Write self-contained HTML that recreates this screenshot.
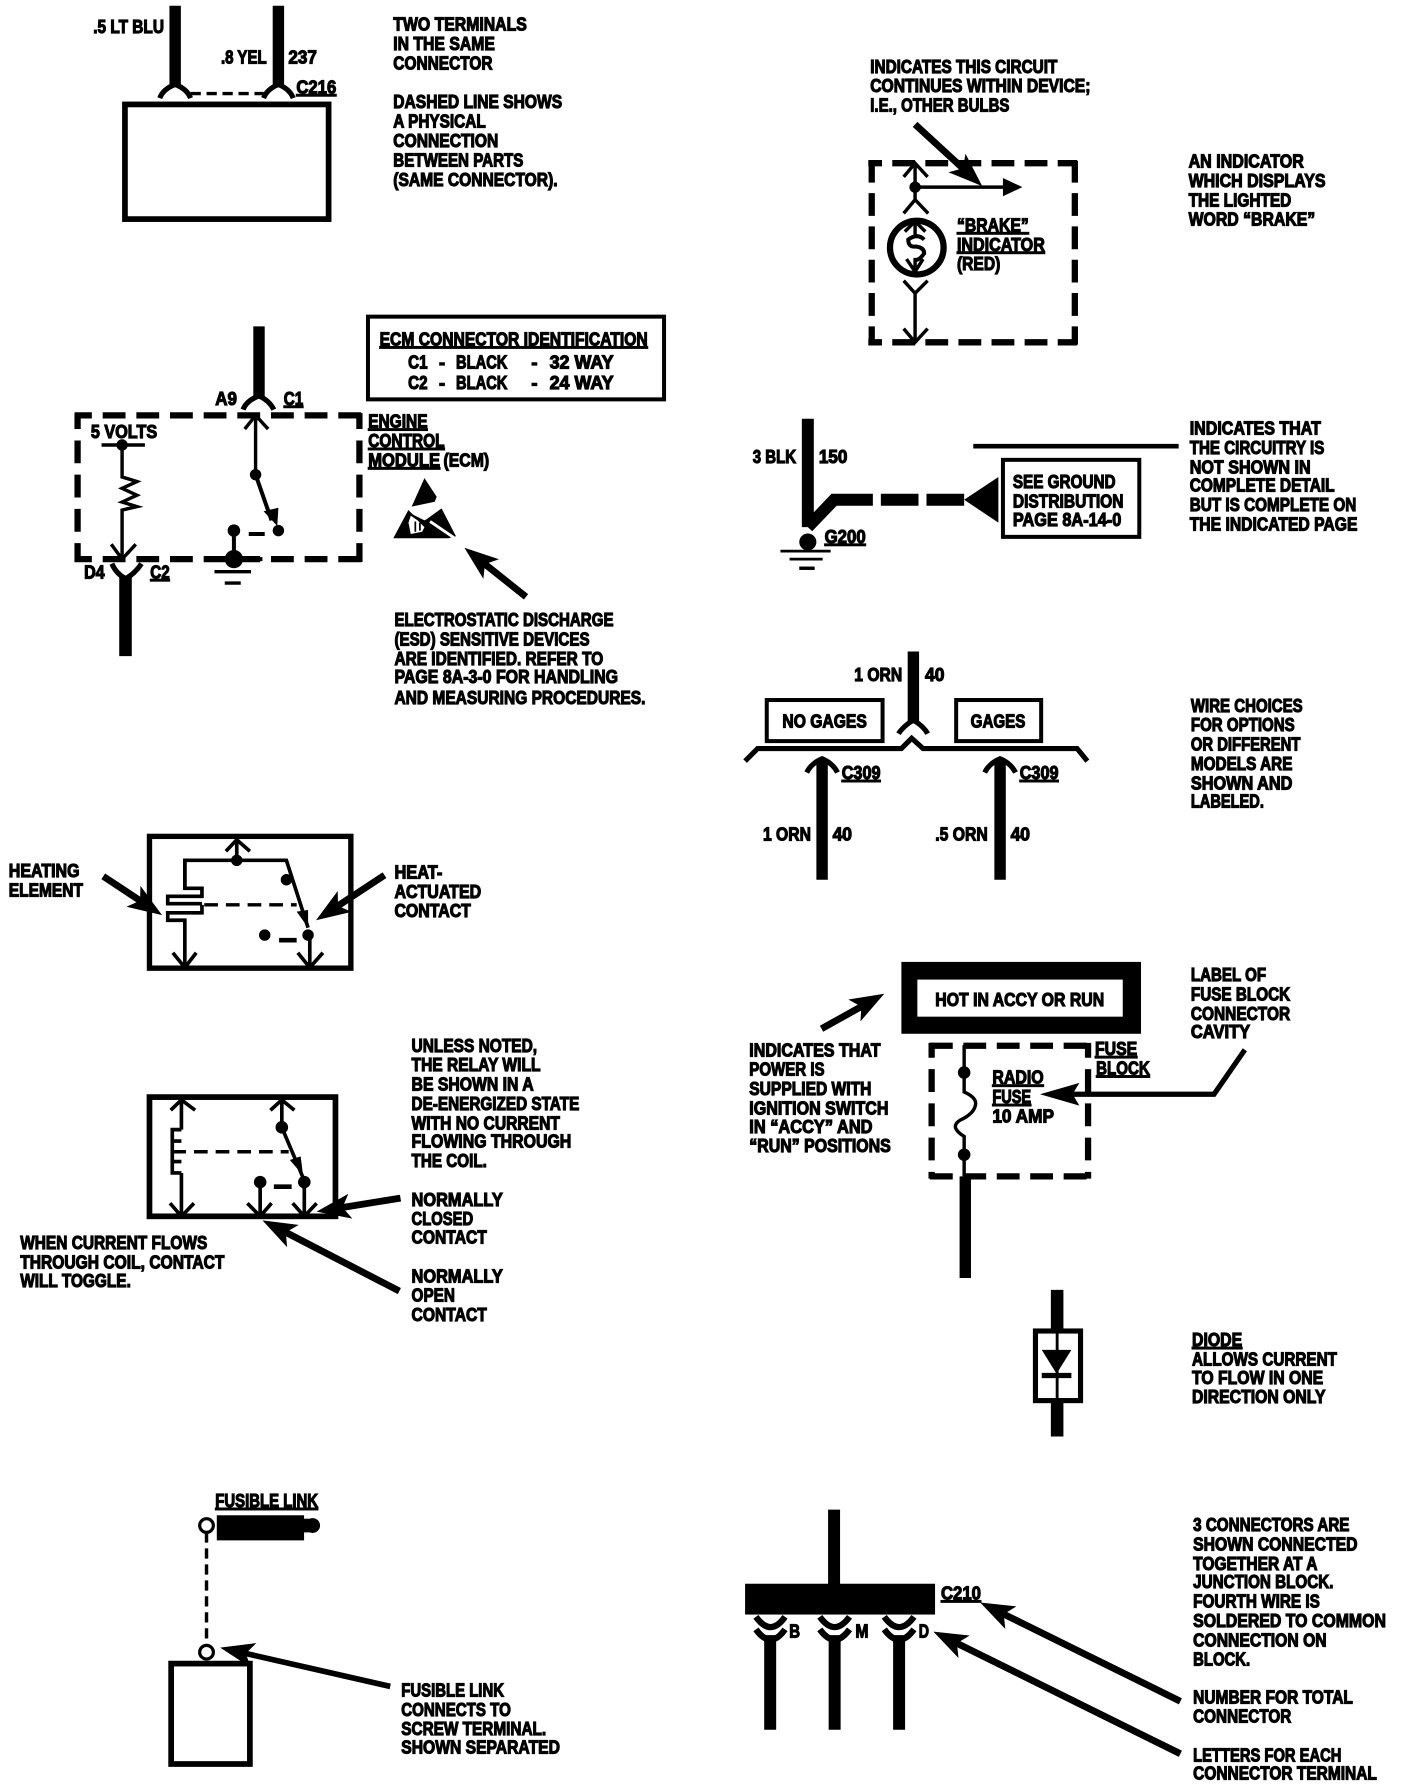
<!DOCTYPE html>
<html><head><meta charset="utf-8"><title>Wiring diagram symbols</title>
<style>
html,body{margin:0;padding:0;background:#fff}
svg{display:block;position:absolute;left:0;top:0}
text{font:bold 16px "Liberation Sans",sans-serif;fill:#000;stroke:#000;stroke-width:1;transform:translate(-.3px,-.2px)}
.u{text-decoration:underline}
.w{fill:none;stroke:#000;stroke-linecap:butt;stroke-linejoin:miter}
.n{fill:#000;stroke:none}
</style></head><body>
<svg width="1408" height="1788" viewBox="0 0 1234 1567" xmlns="http://www.w3.org/2000/svg">
<defs>
<marker id="a" markerUnits="userSpaceOnUse" viewBox="0 0 30 22" markerWidth="30" markerHeight="22" refX="18" refY="11" orient="auto"><path d="M0 0L30 11L0 22L7 11z"/></marker>
</defs>
<rect width="1234" height="1567" fill="#fff"/>

<!-- Block 1 -->
<g class="w">
<path stroke-width="10" d="M153.500 5V76M244 5V76"/>
<path stroke-width="4.500" d="M140 86Q143 78 153.500 74Q164 78 167 86M231 86Q234 78 244 74Q254 78 257 86"/>
<path stroke-width="3" stroke-dasharray="9 5" d="M167 82H231"/>
<rect x="109.500" y="91.500" width="178.500" height="100.500" stroke-width="5"/>
</g>
<text x="82" y="29" textLength="62" lengthAdjust="spacingAndGlyphs">.5 LT BLU</text>
<text x="194" y="56" textLength="40" lengthAdjust="spacingAndGlyphs">.8 YEL</text>
<text x="253" y="56" textLength="25" lengthAdjust="spacingAndGlyphs">237</text>
<text class="u" x="260" y="82" textLength="35" lengthAdjust="spacingAndGlyphs">C216</text>
<text x="345" y="27" textLength="117" lengthAdjust="spacingAndGlyphs">TWO TERMINALS</text>
<text x="345" y="44" textLength="89" lengthAdjust="spacingAndGlyphs">IN THE SAME</text>
<text x="345" y="61" textLength="87" lengthAdjust="spacingAndGlyphs">CONNECTOR</text>
<text x="345" y="95" textLength="148" lengthAdjust="spacingAndGlyphs">DASHED LINE SHOWS</text>
<text x="345" y="112" textLength="81" lengthAdjust="spacingAndGlyphs">A PHYSICAL</text>
<text x="345" y="129" textLength="92" lengthAdjust="spacingAndGlyphs">CONNECTION</text>
<text x="345" y="146" textLength="114" lengthAdjust="spacingAndGlyphs">BETWEEN PARTS</text>
<text x="345" y="163" textLength="144" lengthAdjust="spacingAndGlyphs">(SAME CONNECTOR).</text>

<!-- ECM -->
<rect class="w" x="322.500" y="277.500" width="259.500" height="72.500" stroke-width="3.500"/>
<text class="u" x="333" y="303" textLength="235" lengthAdjust="spacingAndGlyphs">ECM CONNECTOR IDENTIFICATION</text>
<text x="358" y="323" textLength="17" lengthAdjust="spacingAndGlyphs">C1</text>
<text x="385" y="323">-</text>
<text x="400" y="323" textLength="45" lengthAdjust="spacingAndGlyphs">BLACK</text>
<text x="466" y="323">-</text>
<text x="482" y="323" textLength="56" lengthAdjust="spacingAndGlyphs">32 WAY</text>
<text x="358" y="341" textLength="17" lengthAdjust="spacingAndGlyphs">C2</text>
<text x="385" y="341">-</text>
<text x="400" y="341" textLength="45" lengthAdjust="spacingAndGlyphs">BLACK</text>
<text x="466" y="341">-</text>
<text x="482" y="341" textLength="56" lengthAdjust="spacingAndGlyphs">24 WAY</text>
<g class="w">
<path stroke-width="10" d="M227 286V349"/>
<path stroke-width="4.500" d="M213 359Q216 351 227 347Q236 351 240 359"/>
<path stroke-width="5.500" stroke-dasharray="20 9.500" stroke-dashoffset="5" d="M65.500 364H317.500M65.500 490H317.500"/>
<path stroke-width="5.500" stroke-dasharray="20 10" stroke-dashoffset="6" d="M68 362V492.500M315 362V492.500"/>
<path stroke-width="3" d="M214.500 376L224 364L235 376M224 364V416"/>
<path stroke-width="3.500" d="M224 416L238 456"/>
<path stroke-width="3" d="M89 390H127M107 390V418L120 422L107 428L120 434L107 440L120 444L107 447V490M97.500 477L107 490L119 477"/>
<path stroke-width="3.500" d="M205 465V490M218 468H232"/>
<path stroke-width="3.500" d="M182 490H230"/>
<path stroke-width="3" d="M188 501H220M197 511H211"/>
<path stroke-width="4.500" d="M98 494Q102 503 110 507Q118 503 124 494"/>
<path stroke-width="11" d="M110 506V575"/>
</g>
<path class="n" d="M231 448L244 445L243 461z"/>
<circle class="n" cx="224" cy="416" r="5"/><circle class="n" cx="244" cy="465" r="5"/><circle class="n" cx="205" cy="465" r="5.500"/><circle class="n" cx="205" cy="490" r="8"/><circle class="n" cx="107" cy="390" r="5"/>
<text x="189" y="355" textLength="19" lengthAdjust="spacingAndGlyphs">A9</text>
<text class="u" x="249" y="355" textLength="17" lengthAdjust="spacingAndGlyphs">C1</text>
<text x="80" y="384" textLength="58" lengthAdjust="spacingAndGlyphs">5 VOLTS</text>
<text x="74" y="507" textLength="18" lengthAdjust="spacingAndGlyphs">D4</text>
<text class="u" x="132" y="507" textLength="17" lengthAdjust="spacingAndGlyphs">C2</text>
<text class="u" x="323" y="375" textLength="52" lengthAdjust="spacingAndGlyphs">ENGINE</text>
<text class="u" x="323" y="392" textLength="67" lengthAdjust="spacingAndGlyphs">CONTROL</text>
<text class="u" x="323" y="409" textLength="63" lengthAdjust="spacingAndGlyphs">MODULE</text>
<text x="389" y="409" textLength="40" lengthAdjust="spacingAndGlyphs">(ECM)</text>
<path class="n" d="M372 419L382.700 435.300L381 439.700L360.800 444z"/>
<path class="n" d="M344.700 471.700L357.900 447L362 451L372 456L374 455L387 445.500L399.600 470L393 471.700z"/>
<path d="M358 458L360 452L366 456L372 462L370 466L360 468z" fill="#fff"/>
<path d="M364 457V466M368 458V465" stroke="#000" stroke-width="1.500" fill="none"/>
<path d="M376.900 457L399 472" stroke="#fff" stroke-width="2.500" fill="none"/>
<path class="w" stroke-width="6" marker-end="url(#a)" d="M461 523L416.400 487.500"/>
<text x="346" y="549" textLength="192" lengthAdjust="spacingAndGlyphs">ELECTROSTATIC DISCHARGE</text>
<text x="346" y="566" textLength="171" lengthAdjust="spacingAndGlyphs">(ESD) SENSITIVE DEVICES</text>
<text x="346" y="583" textLength="183" lengthAdjust="spacingAndGlyphs">ARE IDENTIFIED.  REFER TO</text>
<text x="346" y="599" textLength="196" lengthAdjust="spacingAndGlyphs">PAGE 8A-3-0 FOR HANDLING</text>
<text x="346" y="617" textLength="220" lengthAdjust="spacingAndGlyphs">AND MEASURING PROCEDURES.</text>

<!-- Heater -->
<g class="w">
<rect x="131" y="733" width="176.500" height="115.500" stroke-width="4.700"/>
<path stroke-width="3.200" d="M198 746L207.500 736L219 746M207.500 736V754M162 778.500V754H251L270 813"/>
<path stroke-width="3.200" d="M162 754V778.500H177V785.500H147V792H177M177 793V800H147V806.500H162V848M151.500 835L162 848L172 835"/>
<path stroke-width="3" stroke-dasharray="12 7" d="M179 793H260"/>
<path stroke-width="3.200" d="M271.500 819V848M261 835L271.500 848L283 835"/>
<path stroke-width="4" d="M244.600 824H260"/>
</g>
<circle class="n" cx="207.500" cy="754" r="5"/><circle class="n" cx="251" cy="771" r="5"/><circle class="n" cx="270" cy="819.500" r="5"/><circle class="n" cx="232" cy="819.500" r="5"/>
<path class="n" d="M260 799L270 797.500L270 813z"/>
<path class="w" stroke-width="6" marker-end="url(#a)" d="M90.500 768L132 795.400"/>
<path class="w" stroke-width="6" marker-end="url(#a)" d="M337 767L287 799.900"/>
<text x="8" y="769" textLength="62" lengthAdjust="spacingAndGlyphs">HEATING</text>
<text x="8" y="786" textLength="65" lengthAdjust="spacingAndGlyphs">ELEMENT</text>
<text x="346" y="770" textLength="42" lengthAdjust="spacingAndGlyphs">HEAT-</text>
<text x="346" y="787" textLength="76" lengthAdjust="spacingAndGlyphs">ACTUATED</text>
<text x="346" y="804" textLength="67" lengthAdjust="spacingAndGlyphs">CONTACT</text>

<!-- Relay -->
<g class="w">
<rect x="131" y="961.500" width="163" height="104.500" stroke-width="5"/>
<path stroke-width="3.200" d="M149.600 973L159 964L171 973M159 963V990"/>
<path stroke-width="3.200" d="M159 990H151V1028H159M151 1000H159M151 1018H159M159 1028V1066M149 1054.500L159 1066L170 1054.500"/>
<path stroke-width="3" stroke-dasharray="12 7" d="M151 1009.400H253"/>
<path stroke-width="3.200" d="M237 973L247 964L258 973M247 963V988L266 1033"/>
<path stroke-width="4" d="M240 1040H255.600"/>
<path stroke-width="3.200" d="M228 1036V1066M216.800 1054.500L228 1066L238 1054.500M266.700 1036V1066M256.500 1054.500L266.700 1066L277.500 1054.500"/>
</g>
<circle class="n" cx="247" cy="988" r="5.500"/><circle class="n" cx="266.700" cy="1036" r="5.500"/><circle class="n" cx="228" cy="1036" r="5.500"/>
<path class="n" d="M254 1016.600L263.500 1013.400L265.600 1030z"/>
<path class="w" stroke-width="6" marker-end="url(#a)" d="M351 1050L289.300 1060"/>
<path class="w" stroke-width="6" marker-end="url(#a)" d="M350 1131.500L240.700 1075"/>
<text x="361" y="922" textLength="110" lengthAdjust="spacingAndGlyphs">UNLESS NOTED,</text>
<text x="361" y="939" textLength="113" lengthAdjust="spacingAndGlyphs">THE RELAY WILL</text>
<text x="361" y="956" textLength="107" lengthAdjust="spacingAndGlyphs">BE SHOWN IN A</text>
<text x="361" y="973" textLength="147" lengthAdjust="spacingAndGlyphs">DE-ENERGIZED STATE</text>
<text x="361" y="990" textLength="130" lengthAdjust="spacingAndGlyphs">WITH NO CURRENT</text>
<text x="361" y="1006" textLength="140" lengthAdjust="spacingAndGlyphs">FLOWING THROUGH</text>
<text x="361" y="1023" textLength="66" lengthAdjust="spacingAndGlyphs">THE COIL.</text>
<text x="361" y="1057" textLength="80" lengthAdjust="spacingAndGlyphs">NORMALLY</text>
<text x="361" y="1074" textLength="54" lengthAdjust="spacingAndGlyphs">CLOSED</text>
<text x="361" y="1090" textLength="66" lengthAdjust="spacingAndGlyphs">CONTACT</text>
<text x="361" y="1124" textLength="80" lengthAdjust="spacingAndGlyphs">NORMALLY</text>
<text x="361" y="1141" textLength="38" lengthAdjust="spacingAndGlyphs">OPEN</text>
<text x="361" y="1158" textLength="66" lengthAdjust="spacingAndGlyphs">CONTACT</text>
<text x="18" y="1095" textLength="164" lengthAdjust="spacingAndGlyphs">WHEN CURRENT FLOWS</text>
<text x="18" y="1112" textLength="179" lengthAdjust="spacingAndGlyphs">THROUGH COIL, CONTACT</text>
<text x="18" y="1128" textLength="97" lengthAdjust="spacingAndGlyphs">WILL TOGGLE.</text>

<!-- Fusible -->
<text class="u" x="189" y="1321" textLength="90" lengthAdjust="spacingAndGlyphs">FUSIBLE LINK</text>
<circle class="w" cx="181" cy="1337" r="6" stroke-width="2.800"/>
<rect class="n" x="190" y="1328" width="76.500" height="22"/>
<rect class="n" x="266" y="1331" width="8" height="12"/><circle class="n" cx="274" cy="1337" r="6.500"/>
<path class="w" stroke-width="3" stroke-dasharray="9 5" d="M181 1343V1442"/>
<circle class="w" cx="181" cy="1448" r="6" stroke-width="2.800"/>
<rect class="w" x="150" y="1458" width="69" height="88" stroke-width="5"/>
<path class="w" stroke-width="5" marker-end="url(#a)" d="M342 1478L204.700 1446.700"/>
<text x="352" y="1487" textLength="90" lengthAdjust="spacingAndGlyphs">FUSIBLE LINK</text>
<text x="352" y="1504" textLength="96" lengthAdjust="spacingAndGlyphs">CONNECTS TO</text>
<text x="352" y="1521" textLength="127" lengthAdjust="spacingAndGlyphs">SCREW TERMINAL.</text>
<text x="352" y="1537" textLength="139" lengthAdjust="spacingAndGlyphs">SHOWN SEPARATED</text>

<!-- Brake indicator -->
<text x="763" y="64" textLength="164" lengthAdjust="spacingAndGlyphs">INDICATES THIS CIRCUIT</text>
<text x="763" y="81" textLength="193" lengthAdjust="spacingAndGlyphs">CONTINUES WITHIN DEVICE;</text>
<text x="763" y="98" textLength="122" lengthAdjust="spacingAndGlyphs">I.E., OTHER BULBS</text>
<g class="w">
<path stroke-width="5.500" stroke-dasharray="20 9" stroke-dashoffset="8" d="M761 143H944M761 300H944"/>
<path stroke-width="5.500" stroke-dasharray="20 9.200" stroke-dashoffset="1" d="M764 141V302M942 141V302"/>
<path stroke-width="3" d="M792 155L802 143L813 155M802 143V175M802 164H880M792 187L802 175L813.500 187"/>
<circle cx="803.500" cy="217" r="23.500" stroke-width="5.500"/>
<path stroke-width="3" d="M792 246L802 257L813 246M802 257V300M792 288L802 300L813 288"/>
<path stroke-width="3" d="M802 192V206M793 203L802 194L811 203M802 226V240M794.500 227L802 238L809 227"/>
<path stroke-width="3.500" d="M810 210Q804 204 796 210Q796 217 803 216Q810 217 810 222Q806 228 802 228"/>
</g>
<circle class="n" cx="802" cy="164" r="5"/>
<path class="n" d="M879 156V172L896 164z"/>
<path class="w" stroke-width="6" marker-end="url(#a)" d="M802 109L852 155"/>
<text class="u" x="839" y="203" textLength="63" lengthAdjust="spacingAndGlyphs">“BRAKE”</text>
<text class="u" x="839" y="220" textLength="77" lengthAdjust="spacingAndGlyphs">INDICATOR</text>
<text x="839" y="237" textLength="38" lengthAdjust="spacingAndGlyphs">(RED)</text>
<text x="1042" y="147" textLength="101" lengthAdjust="spacingAndGlyphs">AN INDICATOR</text>
<text x="1042" y="164" textLength="120" lengthAdjust="spacingAndGlyphs">WHICH DISPLAYS</text>
<text x="1042" y="181" textLength="90" lengthAdjust="spacingAndGlyphs">THE LIGHTED</text>
<text x="1042" y="198" textLength="111" lengthAdjust="spacingAndGlyphs">WORD “BRAKE”</text>

<!-- Ground -->
<g class="w">
<path stroke-width="10.500" d="M708 367V462M708 462L731 438H765M772 438H805M812 438H845"/>
<rect x="879" y="403" width="119.500" height="67.500" stroke-width="3.500"/>
<path stroke-width="4" d="M853 391H1033"/>
<path stroke-width="2.500" d="M684 483H728M692 490H721"/><path stroke-width="3" d="M700.500 498H714"/>
</g>
<path class="n" d="M845 438L875 418V458z"/>
<circle class="n" cx="708" cy="475" r="7.500"/>
<text x="660" y="406" textLength="38" lengthAdjust="spacingAndGlyphs">3 BLK</text>
<text x="718" y="406" textLength="25" lengthAdjust="spacingAndGlyphs">150</text>
<text class="u" x="723" y="476" textLength="36" lengthAdjust="spacingAndGlyphs">G200</text>
<text x="888" y="428" textLength="90" lengthAdjust="spacingAndGlyphs">SEE GROUND</text>
<text x="888" y="445" textLength="97" lengthAdjust="spacingAndGlyphs">DISTRIBUTION</text>
<text x="888" y="461" textLength="95" lengthAdjust="spacingAndGlyphs">PAGE 8A-14-0</text>
<text x="1043" y="381" textLength="115" lengthAdjust="spacingAndGlyphs">INDICATES THAT</text>
<text x="1043" y="398" textLength="118" lengthAdjust="spacingAndGlyphs">THE CIRCUITRY IS</text>
<text x="1043" y="415" textLength="106" lengthAdjust="spacingAndGlyphs">NOT SHOWN IN</text>
<text x="1043" y="431" textLength="127" lengthAdjust="spacingAndGlyphs">COMPLETE DETAIL</text>
<text x="1043" y="448" textLength="146" lengthAdjust="spacingAndGlyphs">BUT IS COMPLETE ON</text>
<text x="1043" y="465" textLength="147" lengthAdjust="spacingAndGlyphs">THE INDICATED PAGE</text>

<!-- Gages -->
<g class="w">
<path stroke-width="10" d="M800.500 571V634"/>
<path stroke-width="4.500" d="M787.500 643Q791 637 800.500 631Q810 637 813 643"/>
<rect x="672" y="613.500" width="101.500" height="36" stroke-width="3.500"/>
<rect x="838" y="613.500" width="74.500" height="36" stroke-width="3.500"/>
<path stroke-width="4.500" d="M653 667L664 656H790L799 647L809 656H944L953 667"/>
<path stroke-width="10" d="M720.500 667V771M876.500 667V771"/>
<path stroke-width="4.500" d="M707 677Q711 669 720.500 665Q730 669 734 677M863 677Q867 669 876.500 665Q886 669 890 677"/>
</g>
<text x="749" y="597" textLength="42" lengthAdjust="spacingAndGlyphs">1 ORN</text>
<text x="811" y="597" textLength="17" lengthAdjust="spacingAndGlyphs">40</text>
<text x="686" y="638" textLength="74" lengthAdjust="spacingAndGlyphs">NO GAGES</text>
<text x="851" y="638" textLength="48" lengthAdjust="spacingAndGlyphs">GAGES</text>
<text class="u" x="738" y="683" textLength="34" lengthAdjust="spacingAndGlyphs">C309</text>
<text class="u" x="894" y="683" textLength="34" lengthAdjust="spacingAndGlyphs">C309</text>
<text x="669" y="737" textLength="42" lengthAdjust="spacingAndGlyphs">1 ORN</text>
<text x="730" y="737" textLength="17" lengthAdjust="spacingAndGlyphs">40</text>
<text x="820" y="737" textLength="46" lengthAdjust="spacingAndGlyphs">.5 ORN</text>
<text x="886" y="737" textLength="17" lengthAdjust="spacingAndGlyphs">40</text>
<text x="1044" y="624" textLength="98" lengthAdjust="spacingAndGlyphs">WIRE CHOICES</text>
<text x="1044" y="641" textLength="91" lengthAdjust="spacingAndGlyphs">FOR OPTIONS</text>
<text x="1044" y="658" textLength="96" lengthAdjust="spacingAndGlyphs">OR DIFFERENT</text>
<text x="1044" y="675" textLength="89" lengthAdjust="spacingAndGlyphs">MODELS ARE</text>
<text x="1044" y="692" textLength="89" lengthAdjust="spacingAndGlyphs">SHOWN AND</text>
<text x="1044" y="708" textLength="64" lengthAdjust="spacingAndGlyphs">LABELED.</text>

<!-- Fuse -->
<rect class="n" x="790" y="843" width="210" height="63"/>
<rect x="804" y="858.500" width="180" height="32.500" fill="#fff"/>
<text x="820" y="882" textLength="148" lengthAdjust="spacingAndGlyphs">HOT IN ACCY OR RUN</text>
<path class="w" stroke-width="6" marker-end="url(#a)" d="M720 901.600L764.500 876.800"/>
<g class="w">
<path stroke-width="5.500" stroke-dasharray="20 9.300" d="M815 916.500H955M815 1031H955"/>
<path stroke-width="5.500" stroke-dasharray="20 10" stroke-dashoffset="7" d="M816.500 914V1033M953.600 914V1033"/>
<path stroke-width="3" d="M845 916V957Q856 962 855 968Q854 976 841 982Q832 988 845 996V1031"/>
<path stroke-width="10" d="M846 1031V1120"/>
<path stroke-width="4.500" d="M1091 920L1064 959H930"/>
</g>
<circle class="n" cx="845" cy="940" r="5.500"/><circle class="n" cx="845" cy="1012" r="5.500"/>
<path class="n" d="M911.500 959L946 949L940 959L946 969z"/>
<text class="u" x="960" y="925" textLength="37" lengthAdjust="spacingAndGlyphs">FUSE</text>
<text class="u" x="961" y="942" textLength="47" lengthAdjust="spacingAndGlyphs">BLOCK</text>
<text class="u" x="870" y="950" textLength="45" lengthAdjust="spacingAndGlyphs">RADIO</text>
<text class="u" x="870" y="967" textLength="34" lengthAdjust="spacingAndGlyphs">FUSE</text>
<text x="870" y="984" textLength="54" lengthAdjust="spacingAndGlyphs">10 AMP</text>
<text x="657" y="926" textLength="115" lengthAdjust="spacingAndGlyphs">INDICATES THAT</text>
<text x="657" y="943" textLength="66" lengthAdjust="spacingAndGlyphs">POWER IS</text>
<text x="657" y="960" textLength="107" lengthAdjust="spacingAndGlyphs">SUPPLIED WITH</text>
<text x="657" y="977" textLength="122" lengthAdjust="spacingAndGlyphs">IGNITION SWITCH</text>
<text x="657" y="993" textLength="108" lengthAdjust="spacingAndGlyphs">IN “ACCY” AND</text>
<text x="657" y="1010" textLength="124" lengthAdjust="spacingAndGlyphs">“RUN” POSITIONS</text>
<text x="1044" y="860" textLength="66" lengthAdjust="spacingAndGlyphs">LABEL OF</text>
<text x="1044" y="877" textLength="87" lengthAdjust="spacingAndGlyphs">FUSE BLOCK</text>
<text x="1044" y="894" textLength="87" lengthAdjust="spacingAndGlyphs">CONNECTOR</text>
<text x="1044" y="910" textLength="52" lengthAdjust="spacingAndGlyphs">CAVITY</text>

<!-- Diode -->
<g class="w">
<path stroke-width="11" d="M926.500 1130.500V1165M926.500 1229V1259"/>
<rect x="907.500" y="1166.500" width="39.500" height="61" stroke-width="4.500"/>
<path stroke-width="2.500" d="M926.500 1166V1229"/>
<path stroke-width="4.500" d="M913 1205.500H939"/>
</g>
<path class="n" d="M913 1183H939L926 1204z"/>
<text class="u" x="1045" y="1180" textLength="44" lengthAdjust="spacingAndGlyphs">DIODE</text>
<text x="1045" y="1197" textLength="127" lengthAdjust="spacingAndGlyphs">ALLOWS CURRENT</text>
<text x="1045" y="1213" textLength="115" lengthAdjust="spacingAndGlyphs">TO FLOW IN ONE</text>
<text x="1045" y="1230" textLength="117" lengthAdjust="spacingAndGlyphs">DIRECTION ONLY</text>

<!-- Junction -->
<rect class="n" x="653" y="1388" width="166.500" height="27"/>
<g class="w">
<path stroke-width="10.500" d="M731 1323V1390M675 1433V1516M731.500 1433V1516M788 1433V1516"/>
<path stroke-width="5.500" d="M662.500 1417Q675.400 1435 688 1417M718.500 1417Q731.500 1435 744.500 1417M775 1417Q788 1435 801 1417"/>
<path stroke-width="5.500" d="M662.500 1428Q675.400 1446 688 1428M718.500 1428Q731.500 1446 744.500 1428M775 1428Q788 1446 801 1428"/>
</g>
<text x="692" y="1435.500" textLength="9.500" lengthAdjust="spacingAndGlyphs">B</text>
<text x="750" y="1435.500" textLength="11.500" lengthAdjust="spacingAndGlyphs">M</text>
<text x="805.500" y="1435.500" textLength="9" lengthAdjust="spacingAndGlyphs">D</text>
<text class="u" x="825" y="1402" textLength="35" lengthAdjust="spacingAndGlyphs">C210</text>
<path class="w" stroke-width="6" marker-end="url(#a)" d="M1034.500 1491L869.800 1409.800"/>
<path class="w" stroke-width="6" marker-end="url(#a)" d="M1034.500 1537L828.800 1435.300"/>
<text x="1046" y="1342" textLength="137" lengthAdjust="spacingAndGlyphs">3 CONNECTORS ARE</text>
<text x="1046" y="1359" textLength="144" lengthAdjust="spacingAndGlyphs">SHOWN CONNECTED</text>
<text x="1046" y="1376" textLength="109" lengthAdjust="spacingAndGlyphs">TOGETHER AT A</text>
<text x="1046" y="1392" textLength="123" lengthAdjust="spacingAndGlyphs">JUNCTION BLOCK.</text>
<text x="1046" y="1409" textLength="111" lengthAdjust="spacingAndGlyphs">FOURTH WIRE IS</text>
<text x="1046" y="1426" textLength="169" lengthAdjust="spacingAndGlyphs">SOLDERED TO COMMON</text>
<text x="1046" y="1443" textLength="117" lengthAdjust="spacingAndGlyphs">CONNECTION ON</text>
<text x="1046" y="1460" textLength="50" lengthAdjust="spacingAndGlyphs">BLOCK.</text>
<text x="1046" y="1493" textLength="140" lengthAdjust="spacingAndGlyphs">NUMBER FOR TOTAL</text>
<text x="1046" y="1510" textLength="86" lengthAdjust="spacingAndGlyphs">CONNECTOR</text>
<text x="1046" y="1544" textLength="130" lengthAdjust="spacingAndGlyphs">LETTERS FOR EACH</text>
<text x="1046" y="1560" textLength="161" lengthAdjust="spacingAndGlyphs">CONNECTOR TERMINAL</text>
</svg>
</body></html>
